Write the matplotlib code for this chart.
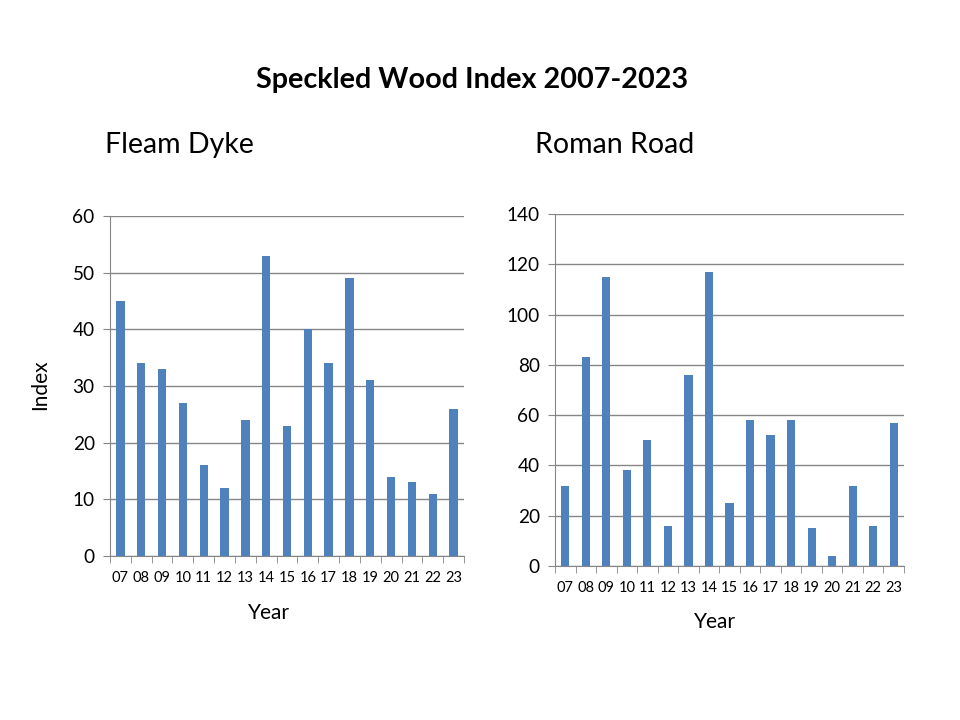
import matplotlib
matplotlib.use("Agg")
import matplotlib.pyplot as plt
import numpy as np

plt.rcParams['font.family'] = ['Lato', 'DejaVu Sans']

years = ["07", "08", "09", "10", "11", "12", "13", "14", "15", "16", "17", "18", "19", "20", "21", "22", "23"]
fleam_dyke = [45, 34, 33, 27, 16, 12, 24, 53, 23, 40, 34, 49, 31, 14, 13, 11, 26]
roman_road = [32, 83, 115, 38, 50, 16, 76, 117, 25, 58, 52, 58, 15, 4, 32, 16, 57]

BAR = "#4F81BD"
GRID = "#868686"

fig = plt.figure(figsize=(9.6, 7.2), dpi=100)
W, H = 960, 720

def make_ax(x0, x1, ytop, ybot, vals, ymax, ystep):
    ax = fig.add_axes([x0 / W, 1 - ybot / H, (x1 - x0) / W, (ybot - ytop) / H])
    x = np.arange(len(vals))
    ax.bar(x, vals, width=0.4, color=BAR, zorder=3)
    ax.set_xlim(-0.5, len(vals) - 0.5)
    ax.set_ylim(0, ymax)
    ax.set_yticks(np.arange(0, ymax + 1, ystep))
    ax.yaxis.grid(True, color=GRID, linewidth=1, zorder=0)
    ax.set_xticks(x)
    ax.set_xticklabels(years, fontsize=10.5)
    ax.set_xticks(np.arange(-0.5, len(vals)), minor=True)
    ax.tick_params(axis='x', which='major', length=0, pad=11)
    ax.tick_params(axis='x', which='minor', length=5, color=GRID, direction='out')
    ax.tick_params(axis='y', length=5, color=GRID, labelsize=13.7, pad=6)
    for s in ['top', 'right']:
        ax.spines[s].set_visible(False)
    for s in ['left', 'bottom']:
        ax.spines[s].set_color(GRID)
    return ax

ax1 = make_ax(110, 464, 216, 556, fleam_dyke, 60, 10)
ax2 = make_ax(555, 904, 214, 566, roman_road, 140, 20)

fig.text(472 / W, 1 - 80 / H, "Speckled Wood Index 2007-2023", ha='center', va='center',
         fontsize=20.7, fontweight='bold')
fig.text(105 / W, 1 - 145 / H, "Fleam Dyke", ha='left', va='center', fontsize=20.5)
fig.text(535 / W, 1 - 145 / H, "Roman Road", ha='left', va='center', fontsize=20.5)
fig.text(40 / W, 1 - 385 / H, "Index", ha='center', va='center', fontsize=15, rotation=90)
fig.text(269 / W, 1 - 613 / H, "Year", ha='center', va='center', fontsize=15)
fig.text(715 / W, 1 - 622 / H, "Year", ha='center', va='center', fontsize=15)

fig.savefig("out.png", dpi=100, facecolor='white')
